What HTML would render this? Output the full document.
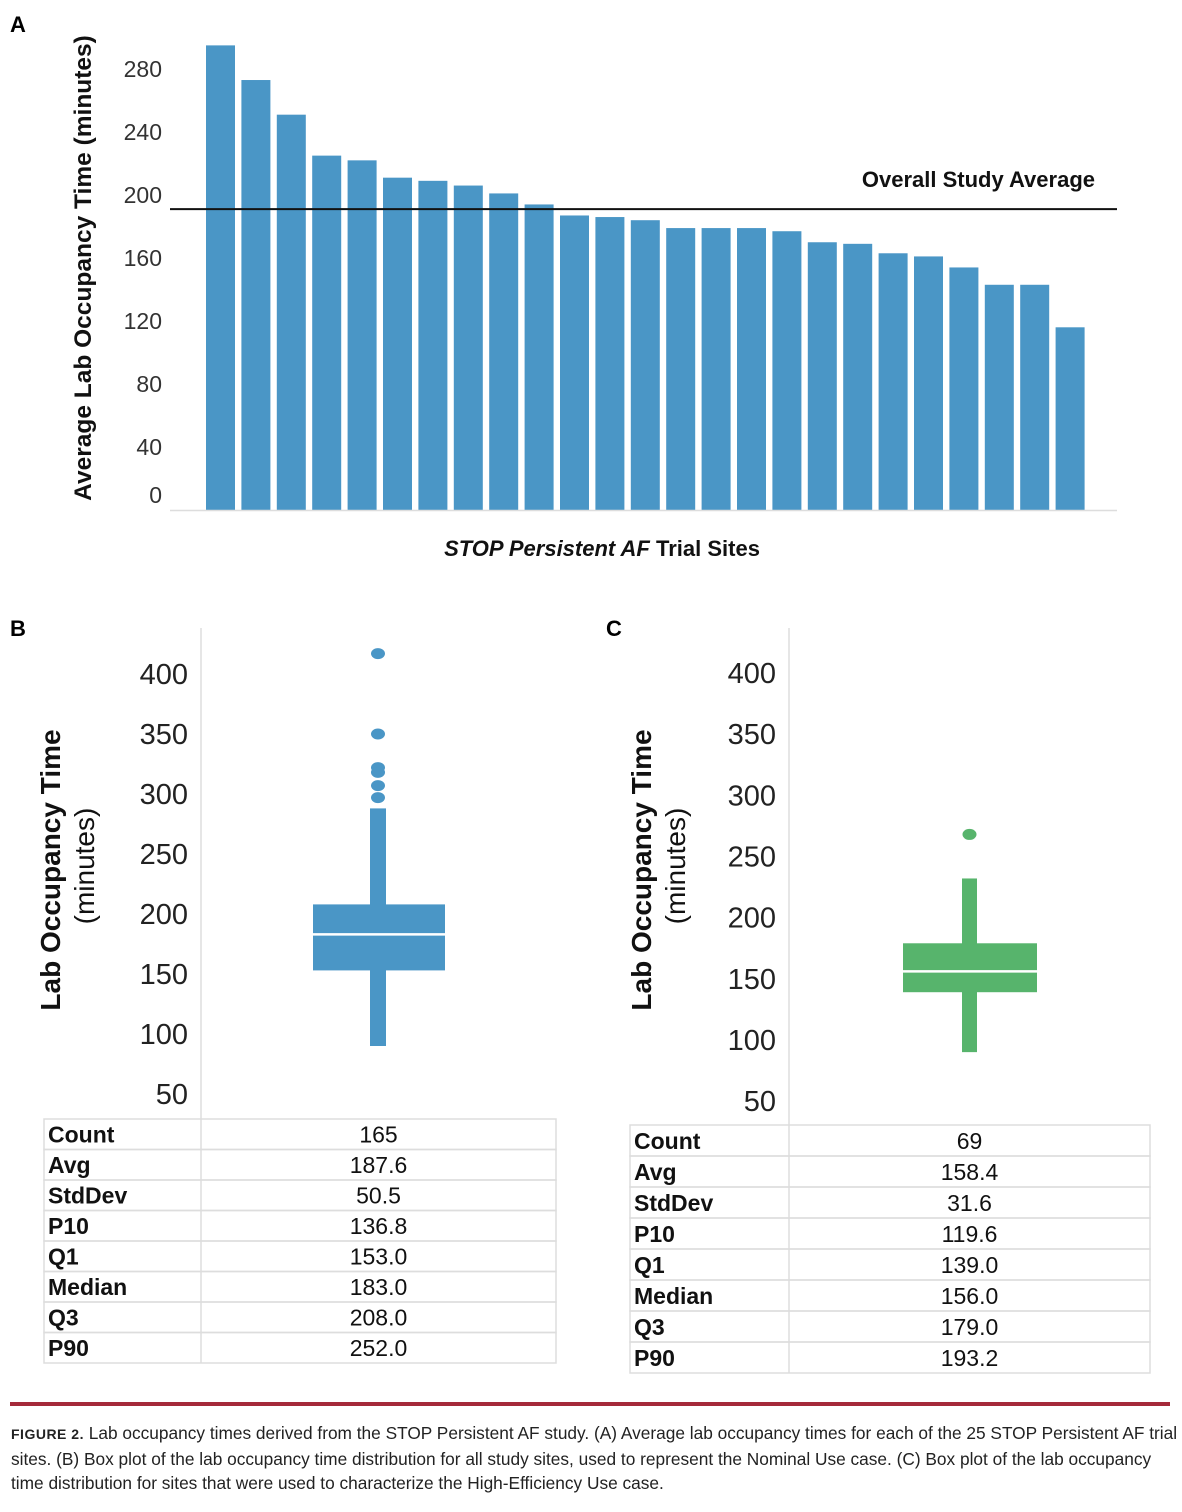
<!DOCTYPE html>
<html><head><meta charset="utf-8"><style>
body{margin:0;background:#fff;width:1182px;height:1512px;overflow:hidden;font-family:"Liberation Sans",sans-serif}
svg{position:absolute;left:0;top:0}
.cap{position:absolute;left:11px;top:1421px;width:1170px;font-size:17.3px;line-height:24.5px;color:#222}
</style></head><body>
<svg width="1182" height="1512">
<g id="A"></g>
<g id="B"></g>
<g id="C"></g>
<line x1="10" y1="1404" x2="1170" y2="1404" stroke="#a52a3a" stroke-width="4"/>
</svg>
<div class="cap"><b style="font-size:14px;letter-spacing:0.5px">FIGURE 2.</b> Lab occupancy times derived from the STOP Persistent AF study. (A) Average lab occupancy times for each of the 25 STOP Persistent AF trial sites. (B) Box plot of the lab occupancy time distribution for all study sites, used to represent the Nominal Use case. (C) Box plot of the lab occupancy time distribution for sites that were used to characterize the High-Efficiency Use case.</div>
<script>
const siteValues=[295,273,251,225,222,211,209,206,201,194,187,186,184,179,179,179,177,170,169,163,161,154,143,143,116];
const aTicks=[0,40,80,120,160,200,240,280];
const studyAvg=191;
const statLabels=["Count","Avg","StdDev","P10","Q1","Median","Q3","P90"];
const bStats=["165","187.6","50.5","136.8","153.0","183.0","208.0","252.0"];
const bBox=[90,153,183,208,288];
const bOutliers=[417,350,322,318,307,297];
const cStats=["69","158.4","31.6","119.6","139.0","156.0","179.0","193.2"];
const cBox=[90,139,156,179,232];
const cOutliers=[268];
const boxTicks=[50,100,150,200,250,300,350,400];
const NS="http://www.w3.org/2000/svg";
function mk(p,t,a,txt){const e=document.createElementNS(NS,t);for(const k in a)e.setAttribute(k,a[k]);if(txt!=null)e.textContent=txt;p.appendChild(e);return e;}
// Panel A
const A=document.getElementById('A');
const yA=v=>510-v*1.575;
let e=mk(A,'text',{x:10,y:32,'font-size':22,'font-weight':'bold'},'A');

aTicks.forEach(t=>{e=mk(A,'text',{x:162,y:(t===0?yA(t)-15:yA(t))+8,'font-size':23,'text-anchor':'end',fill:'#333'},t);
});
siteValues.forEach((v,i)=>{const x=206+i*35.4;e=mk(A,'rect',{x:x,y:yA(v),width:29,height:yA(0)-yA(v),fill:'#4a96c6'});
});
e=mk(A,'line',{x1:170,y1:510.5,x2:1117,y2:510.5,stroke:'#ddd','stroke-width':1.5});

e=mk(A,'line',{x1:170,y1:yA(studyAvg),x2:1117,y2:yA(studyAvg),stroke:'#111','stroke-width':2});

e=mk(A,'text',{x:1095,y:187,'font-size':22,'font-weight':'bold','text-anchor':'end',fill:'#111'},'Overall Study Average');

e=mk(A,'text',{x:91,y:268,'font-size':24.5,'font-weight':'bold','text-anchor':'middle',fill:'#111',transform:'rotate(-90 91 268)'},'Average Lab Occupancy Time (minutes)');

e=mk(A,'text',{x:602,y:556,'font-size':22,'font-weight':'bold','text-anchor':'middle',fill:'#111'});
e.innerHTML='<tspan font-style="italic">STOP Persistent AF</tspan> Trial Sites';

// Box panels
function boxPanel(g,letter,lx,titleX,axX,y400,pxPer,box,outs,color,bx0,bx1,wx0,wx1,tabX0,tabX1,tabY,rowH,stats){
 const y=v=>y400+(400-v)*pxPer;
 let e=mk(g,'text',{x:lx,y:636,'font-size':22,'font-weight':'bold'},letter);
 
 e=mk(g,'line',{x1:axX,y1:628,x2:axX,y2:tabY,stroke:'#ddd','stroke-width':1.5});
 
 boxTicks.forEach(t=>{e=mk(g,'text',{x:axX-13,y:y(t)+10,'font-size':29,'text-anchor':'end',fill:'#222'},t);
 });
 e=mk(g,'rect',{x:wx0,y:y(box[4]),width:wx1-wx0,height:y(box[0])-y(box[4]),fill:color});
 
 e=mk(g,'rect',{x:bx0,y:y(box[3]),width:bx1-bx0,height:y(box[1])-y(box[3]),fill:color});
 
 e=mk(g,'line',{x1:bx0,y1:y(box[2]),x2:bx1,y2:y(box[2]),stroke:'#fff','stroke-width':2.5});
 
 outs.forEach(o=>{e=mk(g,'ellipse',{cx:(wx0+wx1)/2,cy:y(o),rx:7,ry:5.5,fill:color});
 });
 e=mk(g,'text',{x:titleX+10,y:870,'font-size':28,'font-weight':'bold','text-anchor':'middle',fill:'#111',transform:`rotate(-90 ${titleX+10} 870)`},'Lab Occupancy  Time');
 
 e=mk(g,'text',{x:titleX+44,y:866,'font-size':28,'text-anchor':'middle',fill:'#111',transform:`rotate(-90 ${titleX+44} 866)`},'(minutes)');
 
 statLabels.forEach((s,i)=>{const ry=tabY+i*rowH;
  e=mk(g,'rect',{x:tabX0,y:ry,width:tabX1-tabX0,height:rowH,fill:'none',stroke:'#ddd','stroke-width':1.5});
  
  e=mk(g,'text',{x:tabX0+4,y:ry+rowH-7,'font-size':23,'font-weight':'bold',fill:'#111'},s);
  
  e=mk(g,'text',{x:(axX+tabX1)/2,y:ry+rowH-7,'font-size':23,'text-anchor':'middle',fill:'#111'},stats[i]);
  });
 e=mk(g,'line',{x1:axX,y1:tabY,x2:axX,y2:tabY+8*rowH,stroke:'#ddd','stroke-width':1.5});
 
}
boxPanel(document.getElementById('B'),'B',10,50,201,674,1.2,bBox,bOutliers,'#4a96c6',313,445,370,386,44,556,1119,30.5,bStats);
boxPanel(document.getElementById('C'),'C',606,641,789,673,1.223,cBox,cOutliers,'#57b46c',903,1037,962,977,630,1150,1125,31,cStats);
</script>
</body></html>
